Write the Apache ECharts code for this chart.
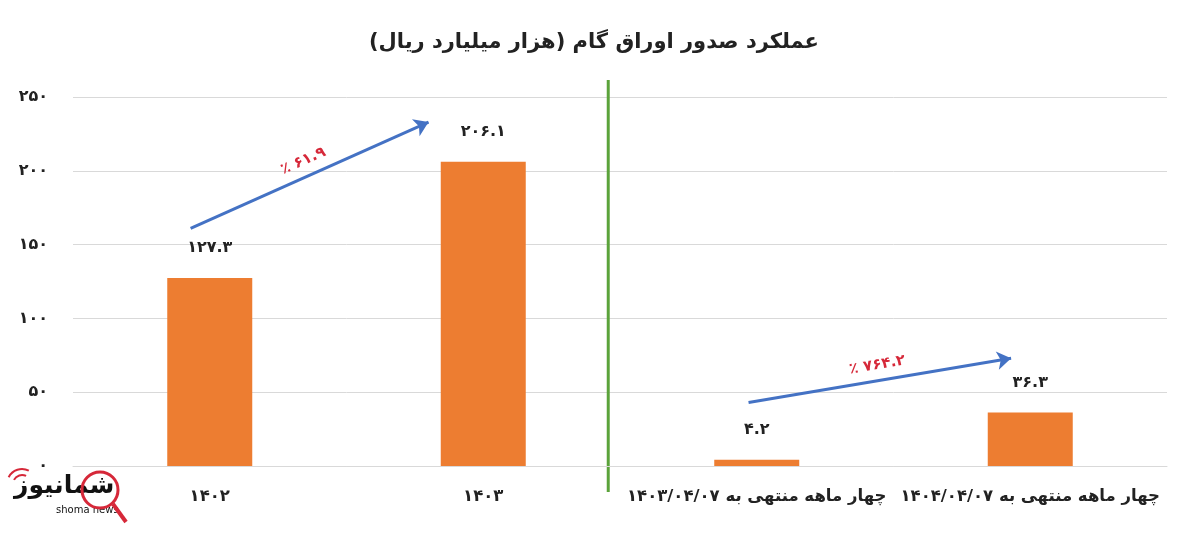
<!DOCTYPE html>
<html><head><meta charset="utf-8">
<script src="https://cdn.jsdelivr.net/npm/echarts@6/dist/echarts.min.js"></script>
<style>html,body{margin:0;padding:0;background:#fff}#c{width:1200px;height:533px}</style>
</head><body><div id="c"></div>
<script>
const titleText = 'عملکرد صدور اوراق گام (هزار میلیارد ریال)';
const categories = ['1402', '1403', 'چهار ماهه منتهی به 1403/04/07', 'چهار ماهه منتهی به 1404/04/07'];
const values = [127.3, 206.1, 4.2, 36.3];
const yTicks = [0, 50, 100, 150, 200, 250];
// growth annotations (category-index, value)
const arrowStart = [[-0.07, 161], [1.97, 43]];
const arrowEnd = [[0.80, 233], [2.93, 73]];
const growthLabels = ['٪ 61.9', '٪ 764.2'];
const separatorAt = 1.457;

const fa = s => String(s).replace(/[0-9]/g, d => '۰۱۲۳۴۵۶۷۸۹'[d]);
const rtl = s => '\u202B\u200F' + s + '\u200F\u202C';
const FONT = 'DejaVu Sans';

const chart = echarts.init(document.getElementById('c'));
const option = {
  animation: false,
  backgroundColor: '#fff',
  title: {
    text: rtl(titleText), left: 364, top: 27,
    textStyle: { fontFamily: FONT, fontWeight: 'bold', fontSize: 21, color: '#222' }
  },
  grid: { left: 73, right: 33, top: 97, bottom: 67 },
  xAxis: [{
    type: 'category', data: categories,
    axisLine: { lineStyle: { color: '#d9d9d9', width: 1 } },
    axisTick: { show: false },
    axisLabel: {
      interval: 0, margin: 22, color: '#222', fontFamily: FONT, fontWeight: 'bold', fontSize: 16.5,
      formatter: v => rtl(fa(v))
    }
  }, {
    type: 'value', min: -0.5, max: 3.5, show: false
  }],
  yAxis: {
    type: 'value', min: 0, max: 250, interval: 50,
    axisLine: { show: false }, axisTick: { show: false },
    splitLine: { lineStyle: { color: '#d9d9d9', width: 1 } },
    axisLabel: {
      margin: 25, color: '#222', fontFamily: FONT, fontWeight: 'bold', fontSize: 16,
      formatter: v => yTicks.includes(v) ? fa(v) : ''
    }
  },
  series: [{
    type: 'bar', data: values, barWidth: 85,
    itemStyle: { color: '#ED7D31' },
    label: {
      show: true, position: 'top', distance: 22, color: '#222',
      fontFamily: FONT, fontWeight: 'bold', fontSize: 16,
      formatter: p => fa(p.value)
    }
  }, {
    type: 'line', xAxisIndex: 1, data: [], clip: false, silent: true,
    markLine: {
      silent: true, symbol: ['none', 'arrow'], symbolSize: 14,
      lineStyle: { color: '#4472C4', width: 3, type: 'solid' },
      label: {
        show: true, position: 'middle', distance: 8, color: '#D62839',
        fontFamily: FONT, fontWeight: 'bold', fontSize: 15
      },
      data: arrowStart.map((s, i) => [
        { coord: s, label: { formatter: fa(growthLabels[i]) } },
        { coord: arrowEnd[i] }
      ])
    }
  }]
};
chart.setOption(option);

const sepTop = chart.convertToPixel({ xAxisIndex: 1, yAxisIndex: 0 }, [separatorAt, 250]);
const sepBot = chart.convertToPixel({ xAxisIndex: 1, yAxisIndex: 0 }, [separatorAt, 0]);
chart.setOption({
  graphic: [
    { type: 'line', shape: { x1: sepTop[0], y1: sepTop[1] - 17, x2: sepBot[0], y2: sepBot[1] + 26 }, style: { stroke: '#5BA33B', lineWidth: 3 } },
    { type: 'text', left: 14, top: 474, style: { text: 'شمانیوز', fill: '#111', font: 'bold 25px "DejaVu Sans"' } },
    { type: 'text', left: 56, top: 505, style: { text: 'shoma news', fill: '#111', font: '10px "DejaVu Sans"' } },
    { type: 'circle', shape: { cx: 100, cy: 490, r: 18 }, style: { fill: 'none', stroke: '#D62839', lineWidth: 3 } },
    { type: 'line', shape: { x1: 113, y1: 504, x2: 126, y2: 522 }, style: { stroke: '#D62839', lineWidth: 4 } },
    { type: 'arc', shape: { cx: 22, cy: 484, r: 9, startAngle: -Math.PI * 0.85, endAngle: -Math.PI * 0.35 }, style: { fill: 'none', stroke: '#D62839', lineWidth: 2 } },
    { type: 'arc', shape: { cx: 22, cy: 484, r: 15, startAngle: -Math.PI * 0.85, endAngle: -Math.PI * 0.35 }, style: { fill: 'none', stroke: '#D62839', lineWidth: 2 } }
  ]
});
</script></body></html>
